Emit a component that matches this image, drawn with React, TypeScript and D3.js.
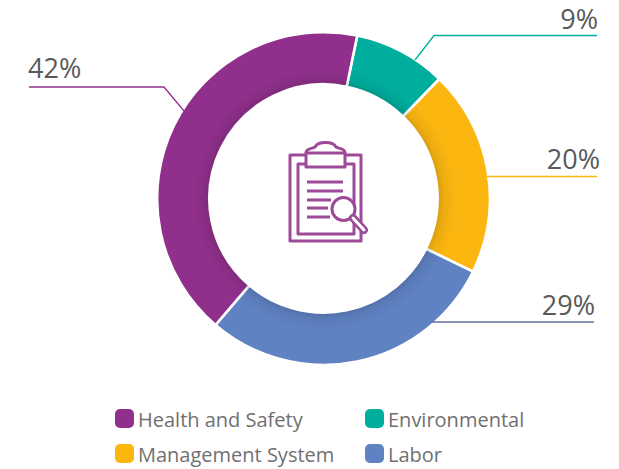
import React from "react";
import * as d3 from "d3";

const categories = ["Environmental", "Management System", "Labor", "Health and Safety"];
const values = [9, 20, 29, 42];
const colors = ["#00ae9e", "#fbb610", "#5f82c3", "#91308c"];
const leaderColors = ["#00ae9e", "#fbb610", "#5f6f9f", "#91308c"];
const legendOrder = ["Health and Safety", "Environmental", "Management System", "Labor"];

const W = 619, H = 469, cx = 323.5, cy = 198.5, R = 166.4, r = 114.2;
const start = (11.7 * Math.PI) / 180;

const leaders: Record<string, { inner: [number, number]; elbow: [number, number]; end: [number, number]; label: [number, number]; anchor: string }> = {
  Environmental: { inner: [415, 60], elbow: [434, 35.5], end: [597, 35.5], label: [598, 29], anchor: "end" },
  "Management System": { inner: [487, 176.5], elbow: [487, 176.5], end: [597, 176.5], label: [600, 169], anchor: "end" },
  Labor: { inner: [432, 322], elbow: [432, 322], end: [594, 322], label: [595, 315], anchor: "end" },
  "Health and Safety": { inner: [184, 111], elbow: [164, 87], end: [29, 87], label: [28, 78], anchor: "start" },
};
const legendPos = [[116, 410], [366, 410], [116, 445], [366, 445]];

export default function App() {
  const pie = d3.pie<number>().sort(null).startAngle(start).endAngle(start + 2 * Math.PI);
  const arc = d3.arc<d3.PieArcDatum<number>>().innerRadius(r).outerRadius(R);
  const arcs = pie(values);
  const shadeOuter = r + 18;
  const shadePath = d3.arc()({ innerRadius: r + 1.2, outerRadius: shadeOuter, startAngle: 0, endAngle: 2 * Math.PI }) as string;
  const stroke = "#9d4a99";
  return (
    <svg width={W} height={H} style={{ position: "absolute", left: 0, top: 0, background: "#fff" }} fontFamily="'Open Sans', sans-serif">
      <defs>
        <radialGradient id="shade" gradientUnits="userSpaceOnUse" cx={0} cy={0} r={shadeOuter}>
          <stop offset={r / shadeOuter} stopColor="#000" stopOpacity={0.15} />
          <stop offset={(r + 6) / shadeOuter} stopColor="#000" stopOpacity={0.06} />
          <stop offset={1} stopColor="#000" stopOpacity={0} />
        </radialGradient>
      </defs>
      <g transform={`translate(${cx},${cy})`}>
        {arcs.map((a, i) => (
          <path key={i} d={arc(a) as string} fill={colors[i]} stroke="#fff" strokeWidth={2.6} />
        ))}
        <path d={shadePath} fill="url(#shade)" />
      </g>
      {categories.map((c, i) => {
        const l = leaders[c];
        const p = d3.line()([l.inner, l.elbow, l.end]) as string;
        return <path key={c} d={p} fill="none" stroke={leaderColors[i]} strokeWidth={1.3} />;
      })}
      {categories.map((c, i) => {
        const l = leaders[c];
        return (
          <text key={c} x={l.label[0]} y={l.label[1]} textAnchor={l.anchor as any} fontSize={27} fill="#595959">
            {values[i]}%
          </text>
        );
      })}
      <g fill="none" stroke={stroke} strokeWidth={3} strokeLinejoin="round">
        <path d="M306 155H290V241H361V155H345" />
        <path d="M306 164H298V234H354V164H345" />
        <path d="M306 167V153H345V167H306Z" />
        <path d="M306 153C306 148 312 149 315 147C318 141 333 141 336 147C339 149 345 148 345 153" />
        <path d="M307 182H343M307 191H343M307 200H331M307 208H328M307 217H330" />
        <circle cx={343.5} cy={209} r={11.5} fill="#fff" />
        <path d="M353 218L364 230" strokeWidth={8} strokeLinecap="round" />
        <path d="M353 218L364 230" strokeWidth={3} stroke="#fff" strokeLinecap="round" />
      </g>
      {legendOrder.map((c, i) => {
        const col = colors[categories.indexOf(c)];
        const [x, y] = legendPos[i];
        return (
          <g key={c}>
            <rect x={x - 1} y={y - 1} width={19} height={19} rx={5} fill={col} />
            <text x={x + 22} y={y + 17} fontSize={20} fill="#707070" fontFamily="'Open Sans', sans-serif">{c}</text>
          </g>
        );
      })}
    </svg>
  );
}
